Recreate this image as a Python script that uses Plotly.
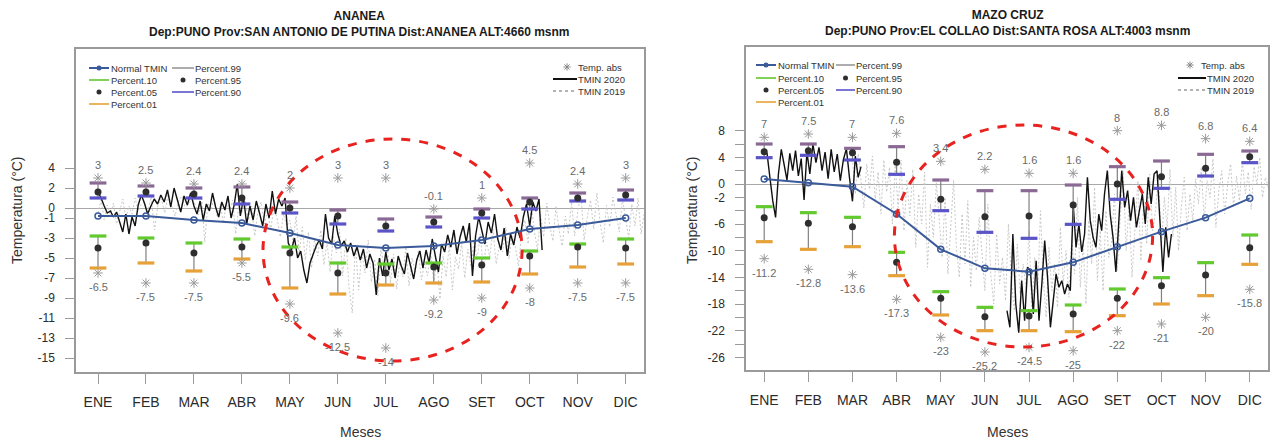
import plotly.graph_objects as go
import pandas as pd

W, H = 1273, 441
FONT = "Liberation Sans, Arial, sans-serif"

meses = ["ENE", "FEB", "MAR", "ABR", "MAY", "JUN", "JUL", "AGO", "SET", "OCT", "NOV", "DIC"]
mes_num = list(range(1, 13))

# ---------------- ANANEA ----------------
an_normal = [-0.8, -0.8, -1.2, -1.5, -2.5, -3.7, -4.0, -3.8, -3.2, -2.1, -1.7, -1.0]
an_p99 = [2.5, 2.2, 2.0, 2.1, 0.6, -0.2, -1.1, -0.9, -0.1, 1.0, 1.5, 1.8]
an_p95 = [1.6, 1.6, 1.4, 1.0, 0.0, -0.8, -1.8, -1.4, -0.5, 0.6, 1.0, 1.3]
an_p90 = [1.0, 1.2, 1.0, 0.4, -0.5, -1.6, -2.3, -1.9, -1.0, -0.1, 0.7, 0.8]
an_p10 = [-2.8, -3.0, -3.5, -3.1, -3.9, -5.5, -5.6, -5.5, -5.0, -4.3, -3.6, -3.1]
an_p05 = [-4.0, -3.5, -4.5, -3.9, -4.5, -6.5, -6.5, -5.9, -5.7, -4.8, -3.9, -4.0]
an_p01 = [-6.0, -5.5, -6.3, -5.1, -8.0, -8.6, -7.7, -7.5, -7.4, -6.6, -5.9, -5.6]
an_absmax = [3, 2.5, 2.4, 2.4, 2, 3, 3, -0.1, 1, 4.5, 2.4, 3]
an_absmin = [-6.5, -7.5, -7.5, -5.5, -9.6, -12.5, -14, -9.2, -9, -8, -7.5, -7.5]

# TMIN 2020, every 2 days from 2020-01-01
an_tmin2020 = [
    1.6, 1.0, 0.2, -0.5, -0.3, -0.9, -0.4, -1.3, -2.4, -0.6, -2.6, -0.9, -1.8, 0.3, 1.3,
    0.5, -0.6, 0.2, 0.9, 0.4, 1.3, 0.6, 1.8, 0.1, 2.0, 0.8, -0.4, 1.2, 0.3, 1.5,
    0.2, -0.6, 0.7, -1.2, 0.4, -0.3, 1.5, 0.1, -0.9, 0.6, -0.2, 1.2, -1.0, 0.3, 2.4,
    -0.8, 1.0, -1.6, 0.2, -1.2, 0.7, -0.5, -1.8, 0.4, -1.0, 1.7, -0.6, 0.9, 0.2, 1.0,
    -3.5, -4.2, -3.0, -5.0, -4.3, -6.2, -7.5, -5.5, -4.6, -3.8, -3.2, -4.1, -0.6, -3.0, -3.6,
    -0.8, -2.6, -3.8, -3.3, -4.4, -3.5, -4.8, -3.9, -5.2, -4.1, -6.0, -4.6, -5.5, -8.7, -5.0,
    -6.8, -4.4, -6.2, -5.1, -7.0, -4.8, -5.8, -6.6, -4.5, -5.9, -7.1, -5.2, -4.3, -6.0, -4.2,
    -5.5, -3.1, -4.8, -6.4, -3.6, -4.4, -2.7, -3.9, -2.2, -4.6, -2.9, -1.8, -3.4, -1.5, -6.8,
    -2.8, -0.9, -2.2, -3.6, -1.4, -2.5, -0.6, -3.1, -4.2, -2.0, -4.8, -2.6, -3.7, -1.9, -3.0,
    -0.9, 0.4, -1.8, 0.6, -0.3, 0.9, -4.2,
]
# TMIN 2019, every 2 days from 2019-01-01
an_tmin2019 = [
    -0.5, 0.8, -1.2, 0.3, -0.8, 0.5, -1.6, -0.2, 0.9, -1.0, 0.2, -0.6, 1.0, -0.3, 0.4,
    0.6, -0.4, 1.1, -2.2, 0.3, 0.9, -0.5, 1.4, 0.2, -0.8, 0.7, 1.2, -0.1, 0.5, 0.8,
    0.3, -0.7, 0.9, -3.4, 0.5, -0.2, 1.0, -0.9, 0.4, -1.5, 0.6, -0.3, 0.8, -2.6, 0.2,
    -0.5, 0.7, -1.2, 0.2, -2.8, -0.4, 0.6, -1.6, -0.3, -2.2, 0.1, -1.0, -2.9, -0.6, -1.8,
    -1.2, -3.5, -0.8, -4.6, -1.9, -5.2, -2.4, -6.0, -3.1, -4.8, -2.2, -5.7, -3.4, -6.4, -2.8,
    -4.5, -2.1, -6.8, -3.0, -7.9, -10.5, -3.6, -8.2, -4.4, -6.5, -3.2, -7.4, -5.1, -8.8, -4.0,
    -6.2, -3.8, -7.5, -4.6, -8.1, -5.3, -6.9, -3.9, -7.8, -5.0, -6.4, -4.2, -7.2, -5.6, -6.8,
    -4.3, -7.6, -5.2, -9.1, -4.8, -6.9, -3.7, -8.2, -4.9, -6.1, -3.5, -7.0, -4.1, -5.8, -3.3,
    -5.2, -2.6, -6.0, -3.4, -4.9, -2.1, -5.6, -3.8, -4.4, -1.9, -5.1, -2.8, -3.9, -5.8, -2.4,
    -1.2, -3.6, 0.4, -2.4, -4.1, -0.6, -2.9, 0.5, -1.8, -3.3, 0.2, -2.2, -3.8, -0.8, -2.6,
    0.6, -2.8, -0.4, 1.4, -3.2, -0.9, 0.8, -2.1, 1.5, -1.4, -3.5, 0.3, -1.9, 1.1, -0.7,
    -2.4, 0.9, -1.1, -3.0, 0.4, -1.8, 1.0, -2.6, -0.5, 0.7, -2.2,
]

# ---------------- MAZO CRUZ ----------------
mc_normal = [0.75, 0.2, -0.4, -4.5, -9.8, -12.65, -13.15, -11.75, -9.4, -7.15, -5.05, -2.15]
mc_p99 = [6.0, 6.0, 5.35, 5.6, 0.6, -1.0, -1.0, -0.15, 2.6, 3.45, 4.45, 4.95]
mc_p95 = [4.85, 5.0, 4.7, 3.25, -2.3, -4.9, -4.8, -3.15, 0.0, 1.1, 2.35, 4.1]
mc_p90 = [3.95, 4.3, 3.6, 1.45, -4.0, -7.25, -8.15, -6.05, -2.3, -0.65, 1.2, 3.2]
mc_p10 = [-3.4, -4.3, -5.0, -10.25, -16.15, -18.5, -19.0, -18.15, -15.75, -14.05, -11.8, -7.65]
mc_p05 = [-5.05, -5.9, -6.4, -11.75, -17.15, -19.9, -19.8, -19.5, -17.15, -15.25, -13.65, -9.55]
mc_p01 = [-8.65, -9.8, -9.4, -13.75, -19.65, -22.0, -22.0, -22.15, -19.75, -18.0, -16.75, -12.05]
mc_absmax = [7, 7.5, 7, 7.6, 3.4, 2.2, 1.6, 1.6, 8, 8.8, 6.8, 6.4]
mc_absmin = [-11.2, -12.8, -13.6, -17.3, -23, -25.2, -24.5, -25, -22, -21, -20, -15.8]

# TMIN 2020, every 2 days: part A from 2020-01-01, part B from 2020-06-16
mc_tmin2020_a = [
    5.0, 4.6, 1.0, -2.5, -5.0, 1.5, 5.2, 3.0, 0.6, 4.6, 2.0, 5.0, 1.2, 3.8, -2.4,
    4.8, 1.5, 6.0, 3.2, 5.5, 2.0, 4.8, 0.8, 5.2, 1.8, 4.5, 0.5, 3.6, 5.3, 1.0,
    -2.6, 4.2, 1.0, 2.6,
]
mc_tmin2020_b = [
    -19.0, -21.5, -7.5, -18.0, -22.3, -14.5, -20.5, -12.5,
    -13.0, -19.5, -11.5, -20.5, -15.0, -8.5, -14.0, -21.5, -17.5, -13.5, -15.5, -14.5, -16.5, -15.0, -16.0,
    -3.0, -9.5, -6.0, -10.2, -7.5, 1.0, -5.5, -8.0, -9.5, -4.5, -7.0, -1.5, 2.0, -4.5, -8.0,
    -13.2, -6.0, 2.0, -3.5, -1.0, -5.5, -2.0, -6.5, -4.0, -1.5, -6.0, 1.0, -3.0, 1.5, 2.0,
    -5.0, -13.2, -6.5, -11.0, -7.5,
]
# TMIN 2019, every 2 days from 2019-03-01
mc_tmin2019 = [
    3.8, -1.5, 4.5, 0.2, -3.6, 3.0, -0.8, 4.2, -2.5, 1.8, -4.5, 3.6, -1.2, 2.5, -6.0,
    2.8, -3.5, 3.6, -7.0, 0.5, -4.8, 2.2, -9.5, -1.5, -6.0, 1.8, -12.5, -3.0, -8.0, 0.2,
    -5.5, -11.0, -2.0, -13.5, -6.5, 0.6, -9.5, -14.0, -4.5, -12.0, -2.5, -15.5, -8.0, -13.0, -5.0,
    -10.5, -16.0, -3.0, -13.5, -18.0, -7.5, -15.0, -11.0, -17.5, -6.0, -14.5, -19.0, -9.0, -16.5, -12.0,
    -15.5, -7.0, -19.5, -11.0, -17.0, -4.0, -14.0, -20.0, -9.5, -16.0, -12.0, -18.5, -6.5, -15.0, -10.0,
    -17.0, -8.0, -13.5, -2.0, -15.5, -9.0, -18.0, -5.5, -12.0, -0.5, -14.5, -7.0, -16.0, -4.0, -11.0,
    -8.5, -1.5, -13.0, -5.0, 2.0, -10.0, -3.0, -14.0, -6.5, 0.5, -11.5, -2.5, -9.0, 1.5, -7.0,
    -4.0, 1.5, -9.5, -2.0, -6.5, 2.2, -8.0, -0.5, -10.0, -3.5, 1.0, -7.0, -1.5, -5.5, 0.8,
    -3.0, 2.5, -5.5, 0.5, -2.0, 3.8, -6.5, -1.0, 2.0, -4.5, 0.0, 3.0, -3.5, 1.2, -2.5,
    3.5, -1.5, 1.8, -3.8, 2.6, 0.0, 4.0, -2.0, 1.0, -0.5,
]

an_title = "<b>ANANEA</b><br><b>Dep:PUNO Prov:SAN ANTONIO DE PUTINA Dist:ANANEA ALT:4660 msnm</b>"
mc_title = "<b>MAZO CRUZ</b><br><b>Dep:PUNO Prov:EL COLLAO Dist:SANTA ROSA ALT:4003 msnm</b>"

an_yticks = [4, 2, 0, -1, -3, -5, -7, -9, -11, -13, -15]
mc_yticks = [8, 6, 4, 2, 0, -2, -4, -6, -8, -10, -12, -14, -16, -18, -20, -22, -24, -26]
mc_yticks_lab = ["8", "", "4", "", "0", "-2", "", "-6", "", "-10", "", "-14", "", "-18", "", "-22", "", "-26"]

# ---------------- styling ----------------
C_NORMAL = "#3b5a9a"
C_P99 = "#8a6a95"
C_P90 = "#5b54c8"
C_P10 = "#62c92f"
C_P01 = "#e6a238"
C_DOT = "#2e2e2e"
C_CONN = "#808080"
C_ABS = "#9a9a9a"
C_ABSTXT = "#6a6a6a"
C_RED = "#e8231f"


def date_x(start, n):
    d = pd.date_range(start, periods=n, freq="2D")
    return list(d.month + (d.day - 1) / d.days_in_month)


fig = go.Figure()
annotations = []
shapes = []


def panel(xa, ya, normal, p99, p95, p90, p10, p05, p01, amax, amin, series2019, series2020):
    for start, vals in series2019:
        fig.add_trace(go.Scatter(x=date_x(start, len(vals)), y=vals, mode="lines",
                                 line=dict(color="#c2c2c2", width=0.9, dash="2px,2px"),
                                 xaxis=xa, yaxis=ya, hoverinfo="skip"))
    for start, vals in series2020:
        fig.add_trace(go.Scatter(x=date_x(start, len(vals)), y=vals, mode="lines",
                                 line=dict(color="#111111", width=1.4),
                                 xaxis=xa, yaxis=ya, hoverinfo="skip"))
    fig.add_trace(go.Scatter(x=mes_num, y=normal, mode="lines+markers",
                             line=dict(color=C_NORMAL, width=2),
                             marker=dict(symbol="circle-open", size=6, color=C_NORMAL,
                                         line=dict(width=1.5, color=C_NORMAL)),
                             xaxis=xa, yaxis=ya))
    cx, cy = [], []
    for m, a, b in zip(mes_num, p99, p90):
        cx += [m, m, None]
        cy += [a, b, None]
    for m, a, b in zip(mes_num, p10, p01):
        cx += [m, m, None]
        cy += [a, b, None]
    fig.add_trace(go.Scatter(x=cx, y=cy, mode="lines", line=dict(color=C_CONN, width=1.2),
                             xaxis=xa, yaxis=ya, hoverinfo="skip"))
    for vals, col in ((p99, C_P99), (p90, C_P90), (p10, C_P10), (p01, C_P01)):
        fig.add_trace(go.Scatter(x=mes_num, y=vals, mode="markers",
                                 marker=dict(symbol="line-ew", size=12, color=col,
                                             line=dict(width=3.2, color=col)),
                                 xaxis=xa, yaxis=ya))
    for vals in (p95, p05):
        fig.add_trace(go.Scatter(x=mes_num, y=vals, mode="markers",
                                 marker=dict(symbol="circle", size=7, color=C_DOT),
                                 xaxis=xa, yaxis=ya))
    fig.add_trace(go.Scatter(x=mes_num + mes_num, y=amax + amin, mode="markers",
                             marker=dict(symbol="asterisk-open", size=8, color=C_ABS,
                                         line=dict(width=1, color=C_ABS)),
                             xaxis=xa, yaxis=ya))
    for m, v in zip(mes_num, amax):
        annotations.append(dict(x=m, y=v, xref=xa, yref=ya, text=f"{v:g}", showarrow=False,
                                yshift=13, font=dict(size=11, color=C_ABSTXT, family=FONT)))
    for m, v in zip(mes_num, amin):
        annotations.append(dict(x=m, y=v, xref=xa, yref=ya, text=f"{v:g}", showarrow=False,
                                yshift=-14, font=dict(size=11, color=C_ABSTXT, family=FONT)))


panel("x", "y", an_normal, an_p99, an_p95, an_p90, an_p10, an_p05, an_p01, an_absmax, an_absmin,
      [("2019-01-01", an_tmin2019)], [("2020-01-01", an_tmin2020)])
panel("x2", "y2", mc_normal, mc_p99, mc_p95, mc_p90, mc_p10, mc_p05, mc_p01, mc_absmax, mc_absmin,
      [("2019-03-01", mc_tmin2019)], [("2020-01-01", mc_tmin2020_a), ("2020-06-16", mc_tmin2020_b)])

shapes.append(dict(type="circle", xref="x", yref="y", x0=4.44, x1=9.84, y0=-15.3, y1=6.9,
                   line=dict(color=C_RED, width=3, dash="dash")))
shapes.append(dict(type="circle", xref="x2", yref="y2", x0=3.95, x1=9.80, y0=-24.45, y1=8.85,
                   line=dict(color=C_RED, width=3, dash="dash")))

LFONT = dict(size=9.5, color="#333333", family=FONT)


def legend(c1, c2, rr, ry, rc):
    def ln(x0, x1, y, col, dash=None, w=1.6):
        fig.add_trace(go.Scatter(x=[x0, x1], y=[y, y], mode="lines",
                                 line=dict(color=col, width=w, dash=dash),
                                 xaxis="x3", yaxis="y3", hoverinfo="skip"))

    def dot(x, y, sym="circle", size=5, col=C_DOT):
        mk = dict(symbol=sym, size=size, color=col)
        if sym.startswith("asterisk"):
            mk["line"] = dict(width=1, color=col)
        fig.add_trace(go.Scatter(x=[x], y=[y], mode="markers", marker=mk,
                                 xaxis="x3", yaxis="y3", hoverinfo="skip"))

    def txt(x, y, t):
        annotations.append(dict(x=x, y=y, xref="x3", yref="y3", text=t, showarrow=False,
                                xanchor="left", yanchor="middle", font=LFONT))

    ln(c1[0], c1[1], ry[0], C_NORMAL, w=2)
    dot((c1[0] + c1[1]) / 2, ry[0], "circle", 5, C_NORMAL)
    txt(c1[2], ry[0], "Normal TMIN")
    ln(c1[0], c1[1], ry[1], C_P10)
    txt(c1[2], ry[1], "Percent.10")
    dot((c1[0] + c1[1]) / 2, ry[2])
    txt(c1[2], ry[2], "Percent.05")
    ln(c1[0], c1[1], ry[3], C_P01)
    txt(c1[2], ry[3], "Percent.01")
    ln(c2[0], c2[1], ry[0], "#999999")
    txt(c2[2], ry[0], "Percent.99")
    dot((c2[0] + c2[1]) / 2, ry[1])
    txt(c2[2], ry[1], "Percent.95")
    ln(c2[0], c2[1], ry[2], C_P90)
    txt(c2[2], ry[2], "Percent.90")
    dot(rr[3], rc[0], "asterisk-open", 6, "#888888")
    txt(rr[3] + 9, rc[0], "Temp. abs")
    ln(rr[0], rr[1], rc[1], "#111111", w=2)
    txt(rr[2], rc[1], "TMIN 2020")
    ln(rr[0], rr[1], rc[2], "#999999", dash="3px,3px", w=1.4)
    txt(rr[2], rc[2], "TMIN 2019")


legend([89, 109, 109], [172, 194, 193], [553, 577, 576, 567], [68, 80, 92, 104], [67, 79, 91])
legend([756, 776, 776], [836, 855, 854], [1178, 1206, 1205, 1190], [65, 78, 90, 102], [65, 78, 90])

for cxp, y1, y2, t in ((359, 15, 32, an_title), (1007, 14, 31, mc_title)):
    annotations.append(dict(x=cxp, y=(y1 + y2) / 2, xref="x3", yref="y3", text=t, showarrow=False,
                            xanchor="center", yanchor="middle",
                            font=dict(size=12, color="#1a1a1a", family=FONT)))
for xp in (360, 1007):
    annotations.append(dict(x=xp, y=432, xref="x3", yref="y3", text="Meses", showarrow=False,
                            font=dict(size=14, color="#333333", family=FONT)))
for xp in (17, 692):
    annotations.append(dict(x=xp, y=210, xref="x3", yref="y3", text="Temperatura (°C)",
                            showarrow=False, textangle=-90,
                            font=dict(size=14, color="#333333", family=FONT)))


def xaxis(domain, rng):
    return dict(domain=domain, range=rng, tickmode="array", tickvals=mes_num, ticktext=meses,
                ticks="outside", ticklen=10, tickcolor="#9a9a9a", tickwidth=1.2,
                showline=True, linecolor="#9a9a9a", linewidth=1.5, mirror=True,
                showgrid=False, zeroline=False, ticklabelstandoff=6,
                tickfont=dict(size=14, color="#2b2b2b", family=FONT), fixedrange=True)


def yaxis(domain, rng, tv, tt, anchor):
    return dict(domain=domain, range=rng, tickmode="array", tickvals=tv, ticktext=tt,
                ticks="outside", ticklen=9, tickcolor="#9a9a9a", tickwidth=1.2,
                showline=True, linecolor="#9a9a9a", linewidth=1.5, mirror=True,
                showgrid=False, zeroline=True, zerolinecolor="#a8a8a8", zerolinewidth=1.2,
                ticklabelstandoff=8, anchor=anchor,
                tickfont=dict(size=12, color="#2b2b2b", family=FONT), fixedrange=True)


fig.update_layout(
    width=W, height=H, autosize=False,
    margin=dict(l=0, r=0, t=0, b=0),
    paper_bgcolor="white", plot_bgcolor="rgba(0,0,0,0)",
    showlegend=False,
    font=dict(family=FONT),
    xaxis=dict(**xaxis([76 / W, 644 / W], [1 + (76 - 98) / 47.97, 1 + (644 - 98) / 47.97]), anchor="y"),
    yaxis=yaxis([1 - 372 / H, 1 - 49 / H], [-16.4, 15.9], an_yticks, [str(v) for v in an_yticks], "x"),
    xaxis2=dict(**xaxis([746 / W, 1268 / W], [1 + (746 - 764.2) / 44.14, 1 + (1268 - 764.2) / 44.14]), anchor="y2"),
    yaxis2=yaxis([1 - 370 / H, 1 - 47 / H], [-27.9, 20.55], mc_yticks, mc_yticks_lab, "x2"),
    xaxis3=dict(domain=[0, 1], range=[0, W], visible=False, anchor="y3", fixedrange=True),
    yaxis3=dict(domain=[0, 1], range=[H, 0], visible=False, anchor="x3", fixedrange=True),
    annotations=annotations,
    shapes=shapes,
)

fig.write_html("out.html", config={"displayModeBar": False},
               post_script="document.body.style.margin='0';document.body.style.overflow='hidden';")
